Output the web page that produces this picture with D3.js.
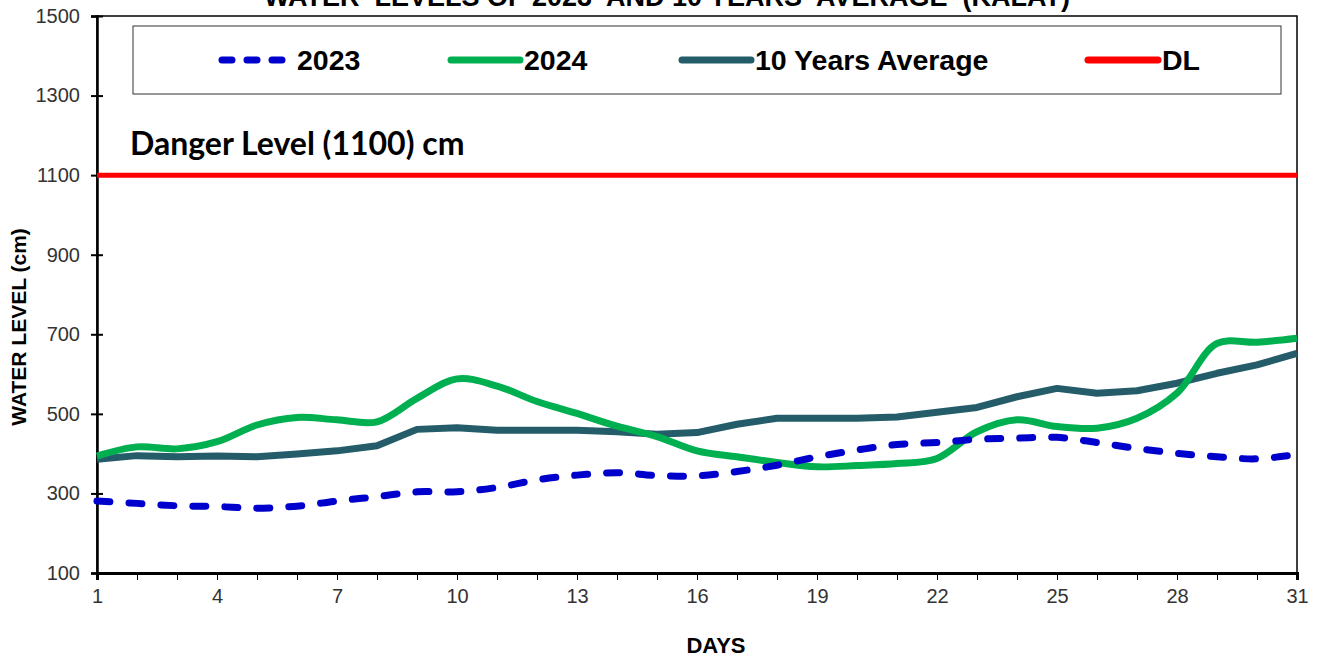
<!DOCTYPE html>
<html>
<head>
<meta charset="utf-8">
<script src="https://cdn.jsdelivr.net/npm/d3@7"></script>
<style>
  html, body { margin: 0; padding: 0; background: #fff; }
  svg { display: block; }
</style>
</head>
<body>
<svg id="chart" width="1327" height="660"></svg>
<script>
const days = d3.range(1, 32);
const values2023 = [281,275,269,267,263,268,281,292,304,304,315,334,346,352,345,344,355,371,392,409,423,428,436,439,441,428,413,401,392,387,398];
const values2024 = [394,417,412,430,472,491,485,480,539,588,570,531,501,469,443,407,392,378,367,370,375,388,455,485,468,464,489,552,677,680,690];
const valuesAvg  = [386,395,392,394,392,399,407,420,461,465,459,459,459,455,449,453,474,489,489,489,492,504,516,543,564,552,558,577,602,623,652];
const dangerLevel = 1100;
const yTicks = [100,300,500,700,900,1100,1300,1500];
const xTickLabels = [1,4,7,10,13,16,19,22,25,28,31];
const legendLabels = ["2023","2024","10 Years Average","DL"];
const titleText = "WATER  LEVELS OF 2023  AND 10 YEARS  AVERAGE  (KALAT)";

const svg = d3.select("#chart");
const L = 97, R = 1297, T = 16, B = 573;
const x = d3.scaleLinear().domain([1, 31]).range([L, R]);
const y = d3.scaleLinear().domain([100, 1500]).range([B, T]);

// title (cut off at top, as in the reference)
svg.append("text").attr("x", 667).attr("y", 6).attr("text-anchor", "middle")
  .style("white-space", "pre")
  .attr("font-family", "Liberation Sans, Arial, sans-serif").attr("font-weight", "bold")
  .attr("font-size", 27).attr("fill", "#000").text(titleText);

// plot frame
svg.append("rect").attr("x", L).attr("y", T).attr("width", R - L).attr("height", B - T)
  .attr("fill", "none").attr("stroke", "#000").attr("stroke-width", 1.5);

// y axis
const yAxis = d3.axisLeft(y).tickValues(yTicks).tickSize(6).tickPadding(10).tickFormat(d3.format("d"));
const gy = svg.append("g").attr("transform", `translate(${L},0)`).call(yAxis);
gy.select(".domain").attr("stroke", "#000").attr("stroke-width", 2.5);
gy.selectAll(".tick line").attr("stroke", "#000").attr("stroke-width", 2).attr("x2", 6).attr("x1", -6);
gy.selectAll(".tick text").attr("font-family", "Liberation Sans, Arial, sans-serif")
  .attr("font-size", 20).attr("fill", "#333").attr("x", -17);

// x axis
const xAxis = d3.axisBottom(x).tickValues(days).tickSize(7).tickPadding(6)
  .tickFormat(d => xTickLabels.includes(d) ? d : "");
const gx = svg.append("g").attr("transform", `translate(0,${B})`).call(xAxis);
gx.select(".domain").attr("stroke", "#000").attr("stroke-width", 3);
gx.selectAll(".tick line").attr("stroke", "#000").attr("stroke-width", 1);
gx.selectAll(".tick text").attr("font-family", "Liberation Sans, Arial, sans-serif")
  .attr("font-size", 20).attr("fill", "#333").attr("dy", "0.85em");

// axis titles
svg.append("text").attr("x", 716).attr("y", 653).attr("text-anchor", "middle")
  .attr("font-family", "Liberation Sans, Arial, sans-serif").attr("font-weight", "bold")
  .attr("font-size", 22).text("DAYS");
svg.append("text").attr("transform", "translate(26,327) rotate(-90)").attr("text-anchor", "middle")
  .attr("font-family", "Liberation Sans, Arial, sans-serif").attr("font-weight", "bold")
  .attr("font-size", 21).text("WATER LEVEL (cm)");

// danger level
svg.append("line").attr("x1", L).attr("x2", R).attr("y1", y(dangerLevel)).attr("y2", y(dangerLevel))
  .attr("stroke", "#FF0000").attr("stroke-width", 5);
svg.append("text").attr("x", 130).attr("y", 155)
  .attr("font-family", "Lato, 'Open Sans', sans-serif").attr("font-weight", "bold")
  .attr("font-size", 32).attr("fill", "#000").text("Danger Level (1100) cm");

// series
const lineSmooth = d3.line().x((d, i) => x(days[i])).y(d => y(d)).curve(d3.curveCatmullRom.alpha(0.5));
const lineStraight = d3.line().x((d, i) => x(days[i])).y(d => y(d));

svg.append("path").datum(valuesAvg).attr("d", lineStraight).attr("fill", "none")
  .attr("stroke", "#245C6A").attr("stroke-width", 7).attr("stroke-linejoin", "round");
svg.append("path").datum(values2024).attr("d", lineSmooth).attr("fill", "none")
  .attr("stroke", "#00B050").attr("stroke-width", 7).attr("stroke-linejoin", "round");
svg.append("path").datum(values2023).attr("d", lineSmooth).attr("fill", "none")
  .attr("stroke", "#0000CC").attr("stroke-width", 7).attr("stroke-linecap", "round")
  .attr("stroke-dasharray", "13,19");

// legend
svg.append("rect").attr("x", 133).attr("y", 26).attr("width", 1148).attr("height", 68)
  .attr("fill", "#fff").attr("stroke", "#333").attr("stroke-width", 1);
const legendItems = [
  {label: legendLabels[0], x1: 222, x2: 293, color: "#0000CC", dash: "13,19"},
  {label: legendLabels[1], x1: 451, x2: 520, color: "#00B050", dash: null},
  {label: legendLabels[2], x1: 682, x2: 751, color: "#245C6A", dash: null},
  {label: legendLabels[3], x1: 1088, x2: 1158, color: "#FF0000", dash: null}
];
const lg = svg.append("g");
legendItems.forEach(it => {
  const ln = lg.append("line").attr("x1", it.x1).attr("x2", it.x2).attr("y1", 60).attr("y2", 60)
    .attr("stroke", it.color).attr("stroke-width", 7).attr("stroke-linecap", "round");
  if (it.dash) ln.attr("stroke-dasharray", "10,15");
  lg.append("text").attr("x", it.x2 + 4).attr("y", 70)
    .attr("font-family", "Liberation Sans, Arial, sans-serif").attr("font-weight", "bold")
    .attr("font-size", 28.5).attr("fill", "#000").text(it.label);
});
</script>
</body>
</html>
